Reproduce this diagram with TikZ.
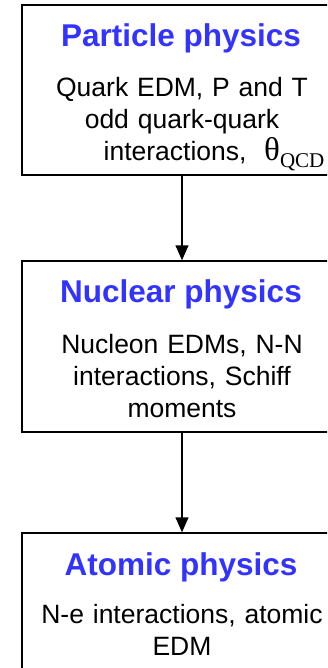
\documentclass[tikz,border=0pt]{standalone}
\usepackage{fontspec}
\setmainfont{Liberation Sans}
\newfontfamily\greekserif{Liberation Serif}
\usetikzlibrary{arrows.meta}
\definecolor{titleblue}{RGB}{51,51,255}
\tikzstyle{lbox}=[rectangle, draw=black, line width=1.5pt,
  minimum width=320pt, minimum height=170pt, inner sep=0pt]
\tikzstyle{ltitle}=[anchor=base, inner sep=0pt, text=titleblue,
  font=\fontsize{31.5}{38}\selectfont\bfseries]
\tikzstyle{ldesc}=[anchor=base, inner sep=0pt, align=center,
  text width=310pt, font=\fontsize{26.5}{32}\selectfont]
\tikzstyle{larr}=[-{Triangle[length=15pt,width=13pt]}, line width=1.5pt]

\begin{document}
\begin{tikzpicture}[x=1pt,y=-1pt]
        \clip (0,0) rectangle (327,668);
        % three levels
        \node[lbox] (b1) at (182,90) {};
        \node[lbox, minimum height=171pt] (b2) at (182,346.5) {};
        \node[lbox] (b3) at (182,618) {};
        \node[ltitle] (t1) at (181,47) {Particle physics};
        \node[ldesc] (d1) at (182,97) {Quark EDM, P and T\\
          odd quark-quark\\
          \hspace*{64pt}interactions,~~{\greekserif\fontsize{33}{33}\selectfont θ}\raisebox{-7pt}{\greekserif\fontsize{21}{21}\selectfont QCD}};
        \node[ltitle] (t2) at (181,302) {Nuclear physics};
        \node[ldesc] (d2) at (182,353) {Nucleon EDMs, N-N\\
          interactions, Schiff\\ moments};
        \node[ltitle] (t3) at (181,575) {Atomic physics};
        \node[ldesc] (d3) at (182,623) {N-e interactions, atomic\\ EDM};
        \draw[larr] (b1)--(b2);
        \draw[larr] (b2)--(b3);
      \end{tikzpicture}
\end{document}
